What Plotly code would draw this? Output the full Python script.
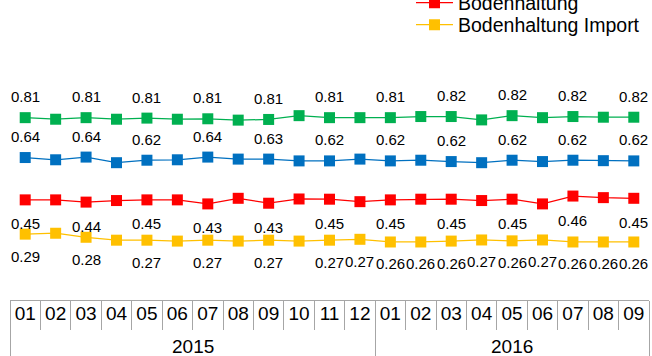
import plotly.graph_objects as go

# Monthly periods: year and month of each observation
years = ["2015", "2015", "2015", "2015", "2015", "2015", "2015", "2015", "2015", "2015", "2015", "2015",
         "2016", "2016", "2016", "2016", "2016", "2016", "2016", "2016", "2016"]
months = ["01", "02", "03", "04", "05", "06", "07", "08", "09", "10", "11", "12",
          "01", "02", "03", "04", "05", "06", "07", "08", "09"]

# Series values
freiland = [0.814, 0.807, 0.814, 0.807, 0.812, 0.807, 0.809, 0.803, 0.806, 0.823, 0.814,
            0.814, 0.814, 0.819, 0.819, 0.804, 0.823, 0.814, 0.819, 0.816, 0.816]
bio = [0.636, 0.626, 0.638, 0.613, 0.624, 0.626, 0.638, 0.629, 0.629, 0.621, 0.621,
       0.629, 0.621, 0.624, 0.618, 0.613, 0.624, 0.618, 0.624, 0.622, 0.621]
boden = [0.447, 0.447, 0.437, 0.444, 0.447, 0.447, 0.429, 0.454, 0.432, 0.451, 0.450,
         0.439, 0.447, 0.450, 0.450, 0.444, 0.450, 0.429, 0.464, 0.457, 0.454]
boden_import = [0.294, 0.298, 0.280, 0.267, 0.267, 0.263, 0.267, 0.263, 0.267, 0.263, 0.267,
                0.271, 0.259, 0.259, 0.263, 0.268, 0.264, 0.268, 0.259, 0.259, 0.259]

# Which points carry a value label
labels_every_other = [0, 2, 4, 6, 8, 10, 12, 14, 16, 18, 20]
labels_import = [0, 2, 4, 6, 8, 10, 11, 12, 13, 14, 15, 16, 17, 18, 19, 20]

FONT = "Liberation Sans, Arial, sans-serif"
GRID = "#a6a6a6"

# Category positions, month boundaries and year groups
pos = list(range(len(months)))
month_edges = [p - 0.5 for p in pos] + [pos[-1] + 0.5]
groups = []  # [year, first index, last index]
for i, yr in enumerate(years):
    if groups and groups[-1][0] == yr:
        groups[-1][2] = i
    else:
        groups.append([yr, i, i])
year_edges = [g[1] - 0.5 for g in groups] + [groups[-1][2] + 0.5]

series = [
    # name, values, colour, legend, labelled points, label offset (px), x axis
    ("Freilandhaltung", freiland, "#00b050", None, labels_every_other, 21, "x"),
    ("Biohaltung", bio, "#0070c0", None, labels_every_other, 21, "x"),
    ("Bodenhaltung", boden, "#ff0000", "legend", labels_every_other, -24, "x"),
    ("Bodenhaltung Import", boden_import, "#ffc000", "legend2", labels_import, -22, "x2"),
]

fig = go.Figure()
annotations = []
for name, vals, color, leg, idx, shift, xa in series:
    fig.add_trace(go.Scatter(
        x=pos, y=vals, name=name, mode="lines+markers", xaxis=xa,
        line=dict(color=color, width=1.25),
        marker=dict(symbol="square", size=11, color=color),
        legend=leg or "legend", showlegend=leg is not None,
        customdata=[f"{m}/{y}" for m, y in zip(months, years)],
        hovertemplate="%{customdata}: %{y:.2f}<extra>" + name + "</extra>",
    ))
    for i in idx:
        annotations.append(dict(
            x=i, y=vals[i], xref=xa, yref="y", text=f"{vals[i]:.2f}",
            showarrow=False, yshift=shift,
            font=dict(family=FONT, size=15, color="#000000"),
        ))

# Year captions centred under their month groups
for yr, first, last in groups:
    annotations.append(dict(
        x=(first + last) / 2, y=0, xref="x", yref="paper", text=yr,
        showarrow=False, yanchor="middle", yshift=-46,
        font=dict(family=FONT, size=19, color="#000000"),
    ))

legend_common = dict(
    xref="container", yref="container", xanchor="left", yanchor="middle",
    font=dict(family=FONT, size=19.5, color="#000000"),
    bgcolor="rgba(0,0,0,0)", borderwidth=0, itemwidth=37,
)

x_range = [month_edges[0], month_edges[-1]]

fig.update_layout(
    width=652, height=356,
    margin=dict(l=10, r=3, t=76, b=56, autoexpand=False),
    paper_bgcolor="#ffffff", plot_bgcolor="#ffffff",
    showlegend=True,
    legend=dict(x=411 / 652, y=1 - 3 / 356, **legend_common),
    legend2=dict(x=411 / 652, y=1 - 25 / 356, **legend_common),
    annotations=annotations,
    xaxis=dict(
        range=x_range, showline=True, linecolor=GRID, linewidth=1,
        tickmode="array", tickvals=pos, ticktext=months, ticks="",
        minor=dict(tickmode="array", tickvals=month_edges, ticks="outside",
                   ticklen=29, tickcolor=GRID, tickwidth=1, showgrid=False),
        showgrid=False, zeroline=False, tickangle=0,
        tickfont=dict(family=FONT, size=19, color="#000000"),
        ticklabelstandoff=-4,
    ),
    # year dividers running through both label rows
    xaxis2=dict(
        overlaying="x", anchor="y", side="bottom", range=x_range,
        tickmode="array", tickvals=year_edges, ticks="outside", ticklen=60,
        tickcolor=GRID, tickwidth=1, showticklabels=False,
        showline=False, showgrid=False, zeroline=False,
    ),
    yaxis=dict(range=[0, 1], visible=False, showgrid=False, zeroline=False),
)

fig.write_html("out.html")
